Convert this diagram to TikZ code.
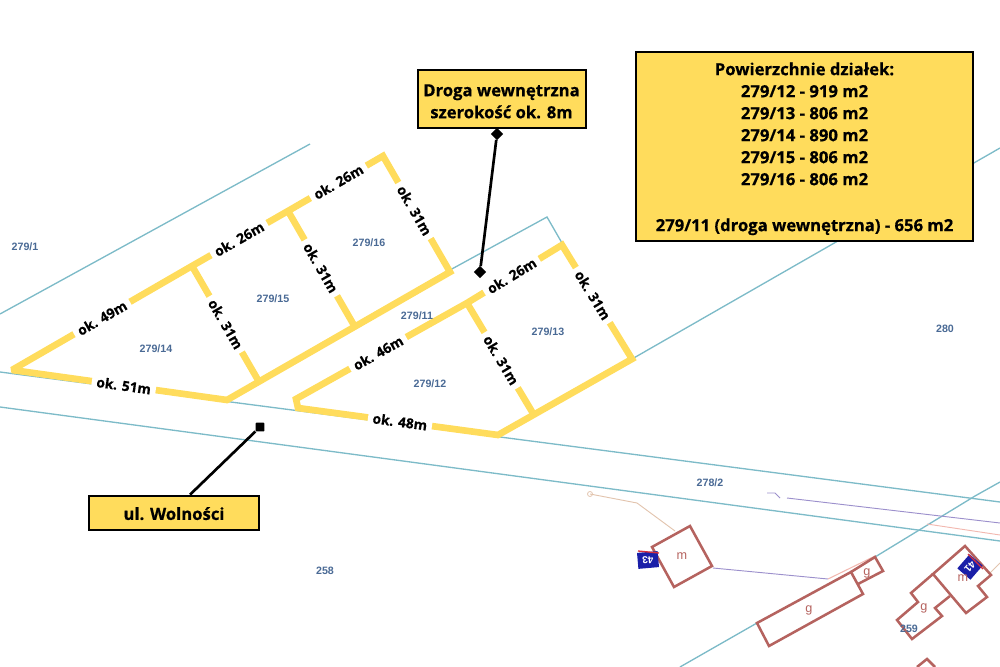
\documentclass[tikz,border=0pt]{standalone}
\usepackage{fontspec}
\setmainfont{Open Sans}[BoldFeatures={FakeBold=0.6}]
\setsansfont{Liberation Sans}
\usetikzlibrary{shapes.geometric}
\definecolor{plotyellow}{HTML}{FFDC5C}
\definecolor{parcelblue}{HTML}{7DBBC8}
\definecolor{houseline}{HTML}{B5635F}
\definecolor{parcelnum}{HTML}{4A6A95}
\definecolor{tagblue}{HTML}{1A1FA8}
\definecolor{tagred}{HTML}{D6303A}
\definecolor{wiretan}{HTML}{E2C4AE}
\definecolor{wirepink}{HTML}{F2B8B0}
\definecolor{wirepurple}{HTML}{9C90CC}
\tikzset{
    plotedge/.style={draw=plotyellow,line width=5pt,line join=miter,miter limit=2},
    seglabel/.style={fill=white,font=\bfseries\fontsize{10.3}{12}\selectfont,inner xsep=3.6pt,inner ysep=0.5pt,sloped},
    parcelline/.style={draw=parcelblue,line width=1pt},
    parcelno/.style={text=parcelnum,font=\sffamily\bfseries\fontsize{8}{9}\selectfont,inner sep=0pt},
    housewall/.style={draw=houseline,line width=1.9pt,line join=miter},
    houseletter/.style={text=houseline,font=\sffamily\fontsize{9.5}{10}\selectfont,inner sep=0pt},
    infobox/.style={draw=black,line width=1.5pt,fill=plotyellow,align=center,font=\bfseries\fontsize{12.5}{16.5}\selectfont,inner sep=0pt},
    pointer/.style={draw=black,line width=2pt},
    tipdiamond/.style={diamond,fill=black,inner sep=0pt,minimum size=9.5pt},
    tipsquare/.style={rectangle,fill=black,rounded corners=0.5pt,inner sep=0pt,minimum size=6.5pt},
    housetag/.style={fill=tagblue,text=white,font=\sffamily\bfseries\fontsize{7.5}{8}\selectfont,inner sep=0pt,minimum width=15.5pt,minimum height=12pt}
}
\begin{document}
\begin{tikzpicture}[x=0.75pt,y=-0.75pt]
    \useasboundingbox (0,0) rectangle (1000,667);

    % Cadastral lines
    \draw[parcelline] (0,314) -- (310,144);
    \draw[parcelline] (0,372) -- (1000,502);
    \draw[parcelline] (0,407) -- (1000,541);
    \draw[parcelline] (450,270) -- (547,217) -- (562,243);
    \draw[parcelline] (632,359) -- (1000,148);
    \draw[parcelline] (680,667) -- (757,623);
    \draw[parcelline] (875,557) -- (975,496) -- (1000,482);

    % Thin utility lines
    \draw[wiretan,line width=0.7pt] (590,494) -- (637,503) -- (675,531);
    \draw[wirepurple,line width=0.7pt] (713,568) -- (828,579);
    \draw[wirepurple,line width=0.7pt] (787,498) -- (1000,523);
    \draw[wirepurple,line width=0.6pt] (767,493) -- (775,493) -- (780,498);
    \draw[wirepink,line width=0.7pt] (927,524) -- (1000,535);
    \draw[wirepink,line width=0.8pt] (828,579) -- (875,556);
    \draw[wiretan,line width=0.7pt] (990,573) -- (1000,563);
    \draw[wiretan,line width=0.6pt] (590,494) circle (2.5);

    % Buildings
    \draw[housewall] (652,547) -- (690,526) -- (712,566) -- (674,587) -- cycle;
    \draw[housewall] (757,623) -- (851,572) -- (863,594) -- (769,646) -- cycle;
    \draw[housewall] (851,572) -- (875,557) -- (883,571) -- (858,584);
    \draw[housewall] (933,574) -- (965,546) -- (991,575) -- (978,586) -- (987,597) -- (966,613) -- cycle;
    \draw[housewall] (933,574) -- (911,593) -- (918,602) -- (897,620) -- (912,639) -- (942,616) -- (935,608) -- (950,596);
    \draw[housewall] (917,667) -- (927,659) -- (935,667);

    % Door number tags
    \node[housetag,rotate=185] (tag43) at (648,560) {43};
    \draw[tagred,line width=1pt] (638,551) -- (659,553);
    \node[housetag,rotate=229,minimum width=14pt,minimum height=13pt] (tag41) at (970,567) {41};
    \draw[tagred,line width=1pt] (968,554) -- (983,569);

    % Building letters
    \node[houseletter] (house43) at (682,556) {m};
    \node[houseletter] (house41) at (963,578) {m};
    \node[houseletter] (garage1) at (809,610) {g};
    \node[houseletter] (garage2) at (867,573) {g};
    \node[houseletter] (garage3) at (924,608) {g};

    % Left plots
    \draw[plotedge] (12,370)
        -- node[seglabel,pos=0.5] (len49) {ok. 49m} (192,266)
        -- node[seglabel,pos=0.49] (len26a) {ok. 26m} (288,211)
        -- node[seglabel,pos=0.53] (len26b) {ok. 26m} (383,156)
        -- node[seglabel,pos=0.47] (len31a) {ok. 31m} (450,272)
        -- (227,400) -- node[seglabel,pos=0.48] (len51) {ok. 51m} cycle;
    \draw[plotedge] (192,266) -- node[seglabel,pos=0.51] (len31c) {ok. 31m} (258,380);
    \draw[plotedge] (288,211) -- node[seglabel,pos=0.49] (len31b) {ok. 31m} (355,327);

    % Right plots
    \draw[plotedge] (298,408) -- (296,399)
        -- node[seglabel,pos=0.48] (len46) {ok. 46m} (467,303)
        -- node[seglabel,pos=0.47] (len26c) {ok. 26m} (562,245)
        -- node[seglabel,pos=0.44] (len31d) {ok. 31m} (632,359)
        -- (498,435) -- node[seglabel,pos=0.49] (len48) {ok. 48m} cycle;
    \draw[plotedge] (467,303) -- node[seglabel,pos=0.51] (len31e) {ok. 31m} (534,415);

    % Parcel numbers
    \node[parcelno] (p1) at (25,247) {279/1};
    \node[parcelno] (p14) at (156,349) {279/14};
    \node[parcelno] (p15) at (273,299) {279/15};
    \node[parcelno] (p16) at (369,243) {279/16};
    \node[parcelno] (p11) at (417,316) {279/11};
    \node[parcelno] (p12) at (430,384) {279/12};
    \node[parcelno] (p13) at (548,332) {279/13};
    \node[parcelno] (p280) at (945,329) {280};
    \node[parcelno] (p278) at (710,483) {278/2};
    \node[parcelno] (p258) at (325,571) {258};
    \node[parcelno] (p259) at (909,629) {259};

    % Callouts
    \node[infobox,minimum width=126pt,minimum height=43pt] (drogabox) at (501.5,99) {\rule{0pt}{12.5pt}Droga wewnętrzna\\szerokość ok. 8m};
    \node[infobox,minimum width=127pt,minimum height=26pt] (ulbox) at (174,513) {\rule{0pt}{10.5pt}ul. Wolności};
    \node[infobox,minimum width=253pt,minimum height=141pt] (sumbox) at (804.5,146.5) {\rule{0pt}{13pt}Powierzchnie działek:\\279/12 - 919 m2\\279/13 - 806 m2\\279/14 - 890 m2\\279/15 - 806 m2\\279/16 - 806 m2\\[18pt]279/11 (droga wewnętrzna) - 656 m2};

    % Pointers
    \node[tipdiamond] (drogatop) at (497,134) {};
    \node[tipdiamond] (drogaend) at (480,272) {};
    \node[tipsquare] (ulend) at (260,427) {};
    \draw[pointer] (drogatop) -- (drogaend);
    \draw[pointer] ([xshift=12pt]ulbox.north) -- (ulend);
\end{tikzpicture}
\end{document}
